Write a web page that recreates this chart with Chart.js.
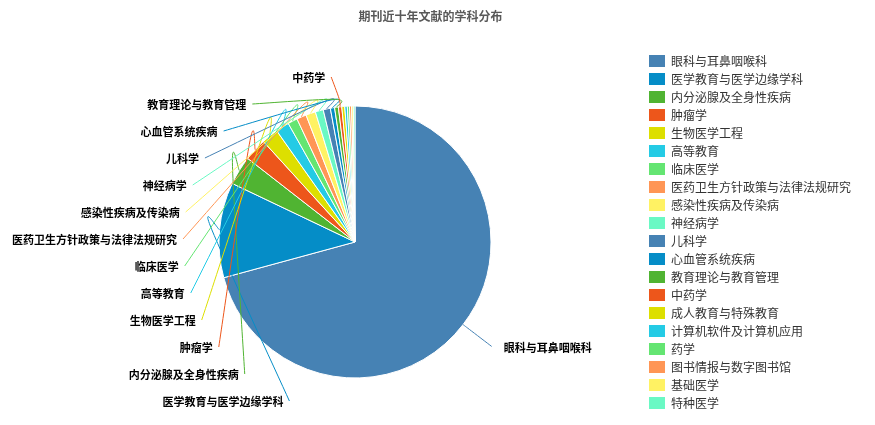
<!DOCTYPE html>
<html>
<head>
<meta charset="utf-8">
<title>期刊近十年文献的学科分布</title>
<script src="https://cdn.jsdelivr.net/npm/chart.js@4.4.1/dist/chart.umd.min.js"></script>
<style>
  html, body { margin: 0; padding: 0; background: #ffffff; }
  #wrap { width: 875px; height: 425px; }
</style>
</head>
<body>
<div id="wrap"><canvas id="chart" width="875" height="425"></canvas></div>
<script>
// Subjects, in the order the slices run clockwise from 12 o'clock
const categories = [
  '眼科与耳鼻咽喉科', '医学教育与医学边缘学科', '内分泌腺及全身性疾病', '肿瘤学',
  '生物医学工程', '高等教育', '临床医学', '医药卫生方针政策与法律法规研究',
  '感染性疾病及传染病', '神经病学', '儿科学', '心血管系统疾病',
  '教育理论与教育管理', '中药学', '成人教育与特殊教育', '计算机软件及计算机应用',
  '药学', '图书情报与数字图书馆', '基础医学', '特种医学'
];

// Number of articles per subject
const articleCounts = [
  1414, 226, 69, 54,
  40, 32, 23, 23,
  23, 19, 17, 10,
  9, 8, 7, 6,
  5, 5, 4, 4
];

// Colour cycle shared by slices, leader lines and legend swatches
const palette = [
  '#4682B4', '#058DC7', '#50B432', '#ED561B', '#DDDF00',
  '#24CBE5', '#64E572', '#FF9655', '#FFF263', '#6AF9C4'
];

// Only the largest subjects carry an outside label
const labelledSlices = 14;

const sliceColors = categories.map((_, i) => palette[i % palette.length]);

// Keeps the pie at a fixed spot left of the legend, and draws the outside
// labels with smooth (Catmull-Rom) leader lines.
const pieLabels = {
  id: 'pieLabels',
  afterLayout(chart) {
    const cx = 355, cy = 242, half = 170;
    Object.assign(chart.chartArea, {
      left: cx - half, right: cx + half, top: cy - half, bottom: cy + half,
      width: half * 2, height: half * 2
    });
  },
  afterDatasetsDraw(chart) {
    const ctx = chart.ctx;
    const arcs = chart.getDatasetMeta(0).data;
    const lineLen = 8;      // first leg, straight out of the slice
    const tail = 8;         // short run towards a label sitting above the pie
    const reach = 36;       // distance from rim to label anchor
    const gap = 27;         // vertical spacing of stacked labels

    const left = [], right = [];
    arcs.slice(0, labelledSlices).forEach((arc, i) => {
      const p = arc.getProps(['x', 'y', 'startAngle', 'endAngle', 'outerRadius'], true);
      const mid = (p.startAngle + p.endAngle) / 2;
      const item = { i, p, cos: Math.cos(mid), sin: Math.sin(mid) };
      (item.cos < 0 ? left : right).push(item);
    });

    const items = [];
    right.forEach(it => {
      const { x, y, outerRadius: r } = it.p;
      it.anchor = { x: x + it.cos * (r + reach), y: y + it.sin * (r + reach) };
      it.side = 1;
      items.push(it);
    });

    // left-hand labels are stacked from the bottom upwards in slice order
    left.sort((a, b) => a.i - b.i);
    left.forEach((it, k) => {
      const { x: cx, y: cy, outerRadius: r } = it.p;
      const ly = cy + 159 - k * gap;
      const dy = ly - cy;
      const R = r + reach;
      let ax;
      if (Math.abs(dy) < 162) {
        ax = cx - Math.sqrt(Math.max(R * R - dy * dy, 0));
      } else {
        ax = cx + it.cos * (r + lineLen) - tail;
      }
      it.anchor = { x: ax, y: ly };
      it.side = -1;
      items.push(it);
    });

    ctx.save();
    items.forEach(it => {
      const { x, y, outerRadius: r } = it.p;
      const p0 = { x: x + it.cos * r, y: y + it.sin * r };
      const p1 = { x: x + it.cos * (r + lineLen), y: y + it.sin * (r + lineLen) };
      const p2 = it.anchor;
      ctx.beginPath();
      ctx.moveTo(p0.x, p0.y);
      ctx.bezierCurveTo(
        p0.x + (p1.x - p0.x) / 6, p0.y + (p1.y - p0.y) / 6,
        p1.x - (p2.x - p0.x) / 6, p1.y - (p2.y - p0.y) / 6,
        p1.x, p1.y);
      ctx.bezierCurveTo(
        p1.x + (p2.x - p0.x) / 6, p1.y + (p2.y - p0.y) / 6,
        p2.x - (p2.x - p1.x) / 6, p2.y - (p2.y - p1.y) / 6,
        p2.x, p2.y);
      ctx.strokeStyle = sliceColors[it.i];
      ctx.lineWidth = 1;
      ctx.stroke();
    });

    ctx.font = 'bold 11px "Noto Sans CJK SC", sans-serif';
    ctx.fillStyle = '#000000';
    ctx.textBaseline = 'middle';
    items.forEach(it => {
      if (it.side < 0) {
        ctx.textAlign = 'right';
        ctx.fillText(categories[it.i], it.anchor.x - 6, it.anchor.y + 1);
      } else {
        ctx.textAlign = 'left';
        ctx.fillText(categories[it.i], it.anchor.x + 12, it.anchor.y + 1);
      }
    });
    ctx.restore();
  }
};

const baseLabels = Chart.overrides.pie.plugins.legend.labels.generateLabels;

new Chart(document.getElementById('chart'), {
  type: 'pie',
  data: {
    labels: categories,
    datasets: [{
      data: articleCounts,
      backgroundColor: sliceColors,
      borderColor: '#ffffff',
      borderWidth: 1
    }]
  },
  options: {
    responsive: false,
    animation: false,
    radius: 136,
    layout: { padding: { left: 0, right: 14, top: 0, bottom: 0 } },
    plugins: {
      title: {
        display: true,
        text: '期刊近十年文献的学科分布',
        color: '#595959',
        font: { family: '"Noto Sans CJK SC", sans-serif', size: 12, weight: 'bold' },
        padding: { top: 9, bottom: 25.6 }
      },
      legend: {
        position: 'right',
        align: 'start',
        fullSize: false,
        labels: {
          boxWidth: 16,
          boxHeight: 12,
          padding: 6,
          color: '#333333',
          font: { family: '"Noto Sans CJK SC", sans-serif', size: 12 },
          generateLabels: chart => baseLabels(chart).map(l => Object.assign(l, { lineWidth: 0 }))
        }
      },
      tooltip: { enabled: false }
    }
  },
  plugins: [pieLabels]
});
</script>
</body>
</html>
